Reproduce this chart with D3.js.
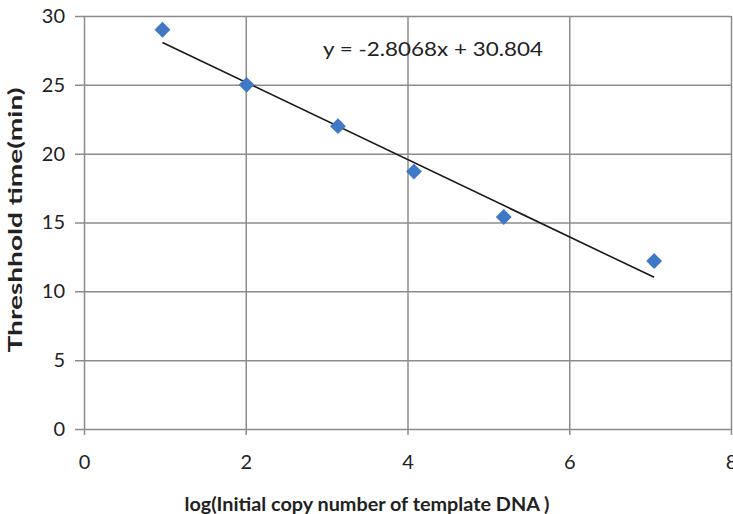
<!DOCTYPE html>
<html>
<head>
<meta charset="utf-8">
<script src="https://cdn.jsdelivr.net/npm/d3@7"></script>
<style>
  body { margin: 0; background: #fff; }
  text { font-family: Lato, "Open Sans", sans-serif; fill: #222; }
  .axis path { display: none; }
  .axis line { stroke: #8c8c8c; stroke-width: 1.5; }
  .axis text { font-size: 20px; fill: #222; }
  .title { font-size: 19px; font-weight: bold; }
</style>
</head>
<body>
<svg width="733" height="514"></svg>
<script>
const logCopies = [0.97, 2.01, 3.14, 4.08, 5.19, 7.05]
const thresholdTime = [29.0, 25.0, 22.0, 18.7, 15.4, 12.2]
const slope = -2.8068, intercept = 30.804
const xTicks = [0, 2, 4, 6, 8]
const yTicks = [0, 5, 10, 15, 20, 25, 30]

const svg = d3.select("svg"),
      margin = {top: 16, right: 2, bottom: 85, left: 84},
      width = svg.attr("width") - margin.left - margin.right,
      height = svg.attr("height") - margin.top - margin.bottom,
      g = svg.append("g").attr("transform", "translate(" + margin.left + "," + margin.top + ")")

const x = d3.scaleLinear().domain([0, 8]).range([0, width]),
      y = d3.scaleLinear().domain([0, 30]).range([height, 0])

const points = logCopies.map((d, i) => ({x: d, y: thresholdTime[i]}))

// gridlines double as axes, ticks poke out past the plot edge
g.append("g")
  .attr("class", "axis axis--x")
  .attr("transform", "translate(0," + height + ")")
  .call(d3.axisBottom(x).tickValues(xTicks).tickSizeOuter(0).tickPadding(20))
  .selectAll(".tick line").attr("y2", -height).attr("y1", 6)

g.append("g")
  .attr("class", "axis axis--y")
  .call(d3.axisLeft(y).tickValues(yTicks).tickSizeOuter(0).tickPadding(13))
  .selectAll(".tick line").attr("x1", -9).attr("x2", width)

// trendline
const xMin = d3.min(logCopies), xMax = d3.max(logCopies)
g.append("line")
  .attr("x1", x(xMin)).attr("y1", y(slope * xMin + intercept))
  .attr("x2", x(xMax)).attr("y2", y(slope * xMax + intercept))
  .style("stroke", "#1a1a1a").style("stroke-width", 1.6)

// diamonds
g.selectAll(".pt")
  .data(points)
  .enter().append("path")
    .attr("class", "pt")
    .attr("d", d3.symbol().type(d3.symbolDiamond2).size(160))
    .attr("transform", d => "translate(" + x(d.x) + "," + y(d.y) + ")")
    .style("fill", "#3f78c4")

g.append("text")
  .attr("x", 433 - margin.left).attr("y", 56 - margin.top)
  .attr("text-anchor", "middle")
  .attr("textLength", 220).attr("lengthAdjust", "spacingAndGlyphs")
  .style("font-size", "20px")
  .text("y = -2.8068x + 30.804")

svg.append("text")
  .attr("class", "title")
  .attr("x", 367).attr("y", 511)
  .attr("text-anchor", "middle")
  .attr("textLength", 365).attr("lengthAdjust", "spacingAndGlyphs")
  .text("log(Initial copy number of template DNA )")

svg.append("text")
  .attr("class", "title")
  .attr("transform", "translate(22,220) rotate(-90)")
  .attr("text-anchor", "middle")
  .attr("textLength", 265).attr("lengthAdjust", "spacingAndGlyphs")
  .text("Threshhold time(min)")
</script>
</body>
</html>
